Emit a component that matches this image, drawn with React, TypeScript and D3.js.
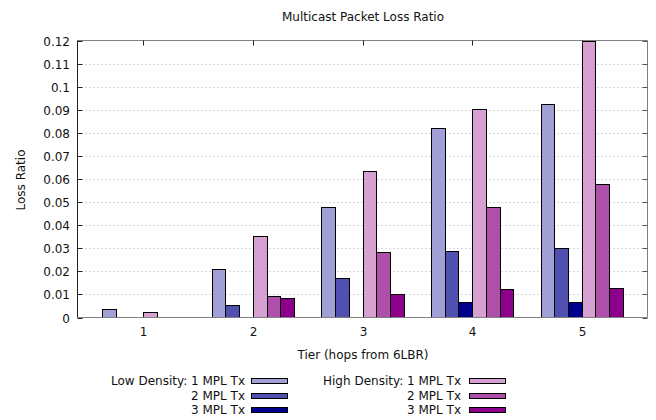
import React from "react";
import * as d3 from "d3";

// tiers on the x axis
const tiers = [1, 2, 3, 4, 5];

// loss ratio per tier, one array per series
const low1 = [0.0035, 0.0211, 0.0479, 0.0822, 0.0924];
const low2 = [0, 0.0052, 0.017, 0.029, 0.0299];
const low3 = [0, 0, 0, 0.0068, 0.0068];
const high1 = [0.0025, 0.0355, 0.0633, 0.0905, 0.125];
const high2 = [0, 0.0091, 0.0282, 0.0478, 0.058];
const high3 = [0, 0.0085, 0.01, 0.0124, 0.0126];

const seriesNames = ["1 MPL Tx", "2 MPL Tx", "3 MPL Tx", "1 MPL Tx", "2 MPL Tx", "3 MPL Tx"];
const seriesColors = ["#a0a0d6", "#5050b0", "#00008c", "#d6a0d2", "#ae50aa", "#8c008c"];
const yTicks = [0, 0.01, 0.02, 0.03, 0.04, 0.05, 0.06, 0.07, 0.08, 0.09, 0.1, 0.11, 0.12];

const font = "'DejaVu Sans', sans-serif";

const App = () => {
  const width = 656;
  const height = 420;
  const left = 77.5, right = 647.5, top = 40.5, bottom = 317.5;

  const xScale = d3.scaleLinear().domain([0.4, 5.6]).range([left, right]);
  const yScale = d3.scaleLinear().domain([0, 0.12]).range([bottom, top]);
  const barW = 0.125;

  const series = [low1, low2, low3, high1, high2, high3];

  const bars = [];
  series.forEach((vals, s) => {
    vals.forEach((v, i) => {
      if (v <= 0) return;
      const x0 = xScale(tiers[i] + (s - 3) * barW);
      const x1 = xScale(tiers[i] + (s - 2) * barW);
      const y = yScale(Math.min(v, 0.12));
      bars.push(
        <rect
          key={`${s}-${i}`}
          x={Math.round(x0) + 0.5}
          y={Math.round(y) + 0.5}
          width={Math.round(x1) - Math.round(x0)}
          height={bottom - Math.round(y) - 0.5}
          fill={seriesColors[s]}
          stroke="#000"
          strokeWidth={1}
        />
      );
    });
  });

  const legendRows = [381, 395.5, 410];

  return (
    <svg
      width={width}
      height={height}
      style={{ position: "absolute", left: 0, top: 0, background: "#fff" }}
      fontFamily={font}
      fontSize={12}
    >
      <rect width={width} height={height} fill="#fff" />
      {/* grid */}
      {yTicks.slice(1, -1).map((t) => (
        <line
          key={t}
          x1={left}
          x2={right}
          y1={Math.round(yScale(t)) + 0.5}
          y2={Math.round(yScale(t)) + 0.5}
          stroke="#b0b0b0"
          strokeDasharray="1,3"
        />
      ))}
      {bars}
      {/* border */}
      <line x1={left} x2={right} y1={top} y2={top} stroke="#808080" />
      <line x1={right} x2={right} y1={top} y2={bottom} stroke="#808080" />
      <line x1={left} x2={right} y1={bottom} y2={bottom} stroke="#808080" />
      <line x1={left} x2={left} y1={top} y2={bottom} stroke="#222" />
      {/* y ticks */}
      {yTicks.map((t) => {
        const y = Math.round(yScale(t)) + 0.5;
        return (
          <g key={t}>
            <line x1={left} x2={left + 5} y1={y} y2={y} stroke="#222" />
            <line x1={right - 5} x2={right} y1={y} y2={y} stroke="#555" />
            <text x={70} y={y + 4} textAnchor="end" fill="#111">
              {t === 0 ? "0" : d3.format("~g")(t)}
            </text>
          </g>
        );
      })}
      {/* x ticks */}
      {tiers.map((t) => {
        const x = Math.round(xScale(t)) + 0.5;
        return (
          <g key={t}>
            <line x1={x} x2={x} y1={top} y2={top + 5} stroke="#222" />
            <text x={x} y={336} textAnchor="middle" fill="#111">
              {t}
            </text>
          </g>
        );
      })}
      <text x={363} y={21} textAnchor="middle" fill="#111">
        Multicast Packet Loss Ratio
      </text>
      <text x={363} y={359} textAnchor="middle" fill="#111">
        Tier (hops from 6LBR)
      </text>
      <text transform="translate(25,180) rotate(-90)" textAnchor="middle" fill="#111">
        Loss Ratio
      </text>
      {/* legend */}
      {seriesNames.map((name, s) => {
        const col = s < 3 ? 0 : 1;
        const row = s % 3;
        const y = legendRows[row];
        const textX = col === 0 ? 245 : 461;
        const swX = col === 0 ? 251 : 469;
        const prefix = row === 0 ? (col === 0 ? "Low Density: " : "High Density: ") : "";
        return (
          <g key={s}>
            <text x={textX} y={y + 4} textAnchor="end" fill="#111">
              {prefix + name}
            </text>
            <rect
              x={swX + 0.5}
              y={Math.round(y - 3) + 0.5}
              width={36}
              height={5}
              fill={seriesColors[s]}
              stroke="#000"
            />
          </g>
        );
      })}
    </svg>
  );
};

export default App;
